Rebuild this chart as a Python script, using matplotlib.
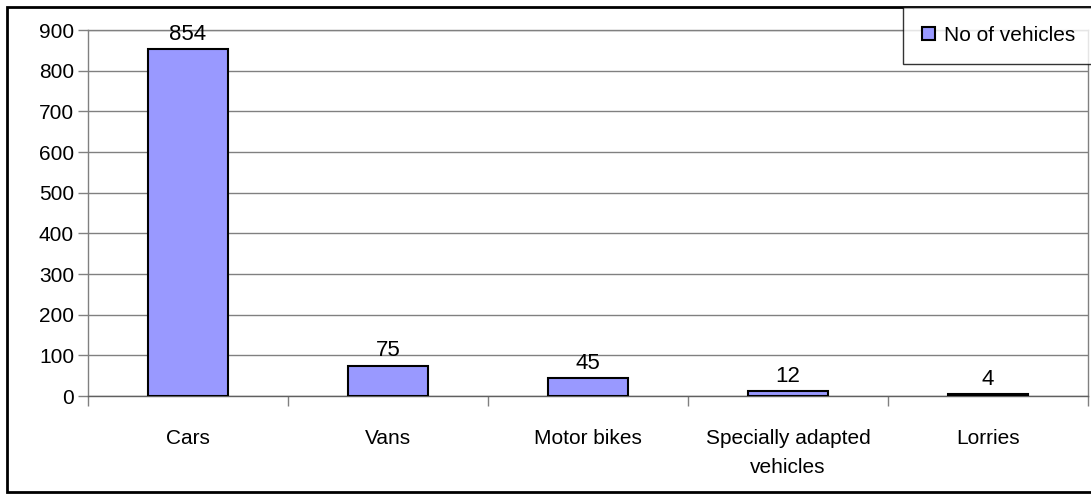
import matplotlib.pyplot as plt
import matplotlib.patches as mpatches
import numpy as np

categories = ["Cars", "Vans", "Motor bikes", "Specially adapted\nvehicles", "Lorries"]
values = [854, 75, 45, 12, 4]
yticks = [0, 100, 200, 300, 400, 500, 600, 700, 800, 900]

plt.rcParams['font.family'] = ['Liberation Sans', 'DejaVu Sans']

fig = plt.figure(figsize=(10.91, 4.95), dpi=100)
ax = fig.add_axes([88 / 1091, 99 / 495, 1000 / 1091, 366 / 495])

x = np.arange(len(categories))
bars = ax.bar(x, values, width=0.4, color="#9999FF", edgecolor="black",
              linewidth=1.5, label="No of vehicles", zorder=3)

for xi, v in zip(x, values):
    ax.annotate(str(v), (xi, v), xytext=(0, 3), textcoords="offset points",
                ha="center", va="bottom", fontsize=16, zorder=4)

ax.set_xlim(-0.5, len(categories) - 0.5)
ax.set_ylim(0, 900)
ax.set_yticks(yticks)
ax.tick_params(axis="y", labelsize=15, length=7, width=1, color="#808080", pad=3)
ax.grid(axis="y", color="#808080", linewidth=1, zorder=0)

# category labels between boundary ticks
ax.set_xticks(np.arange(-0.5, len(categories), 1.0))
ax.set_xticklabels([])
ax.set_xticks(x, minor=True)
ax.set_xticklabels(categories, minor=True, fontsize=15, linespacing=1.65)
ax.tick_params(axis="x", which="major", length=7, width=1, color="#808080")
ax.tick_params(axis="x", which="minor", length=0, pad=24)

for s in ax.spines.values():
    s.set_color("#808080")
    s.set_linewidth(1)
ax.spines["bottom"].set_color("#606060")

# legend box at top right
leg = fig.legend(loc="upper right", bbox_to_anchor=(1094 / 1091, 1 - 7 / 495),
                 fontsize=15, frameon=True, fancybox=False, handlelength=0.6,
                 handleheight=0.6, borderpad=0.9, handletextpad=0.45,
                 borderaxespad=0)
leg.get_frame().set_edgecolor("black")
leg.get_frame().set_linewidth(1)
leg.set_zorder(10)

# outer chart border
fig.patches.append(mpatches.Rectangle((7 / 1091, 3 / 495), 1085 / 1091, 485 / 495,
                                      transform=fig.transFigure, fill=False,
                                      edgecolor="black", linewidth=2))

fig.savefig("out.png", dpi=100)
